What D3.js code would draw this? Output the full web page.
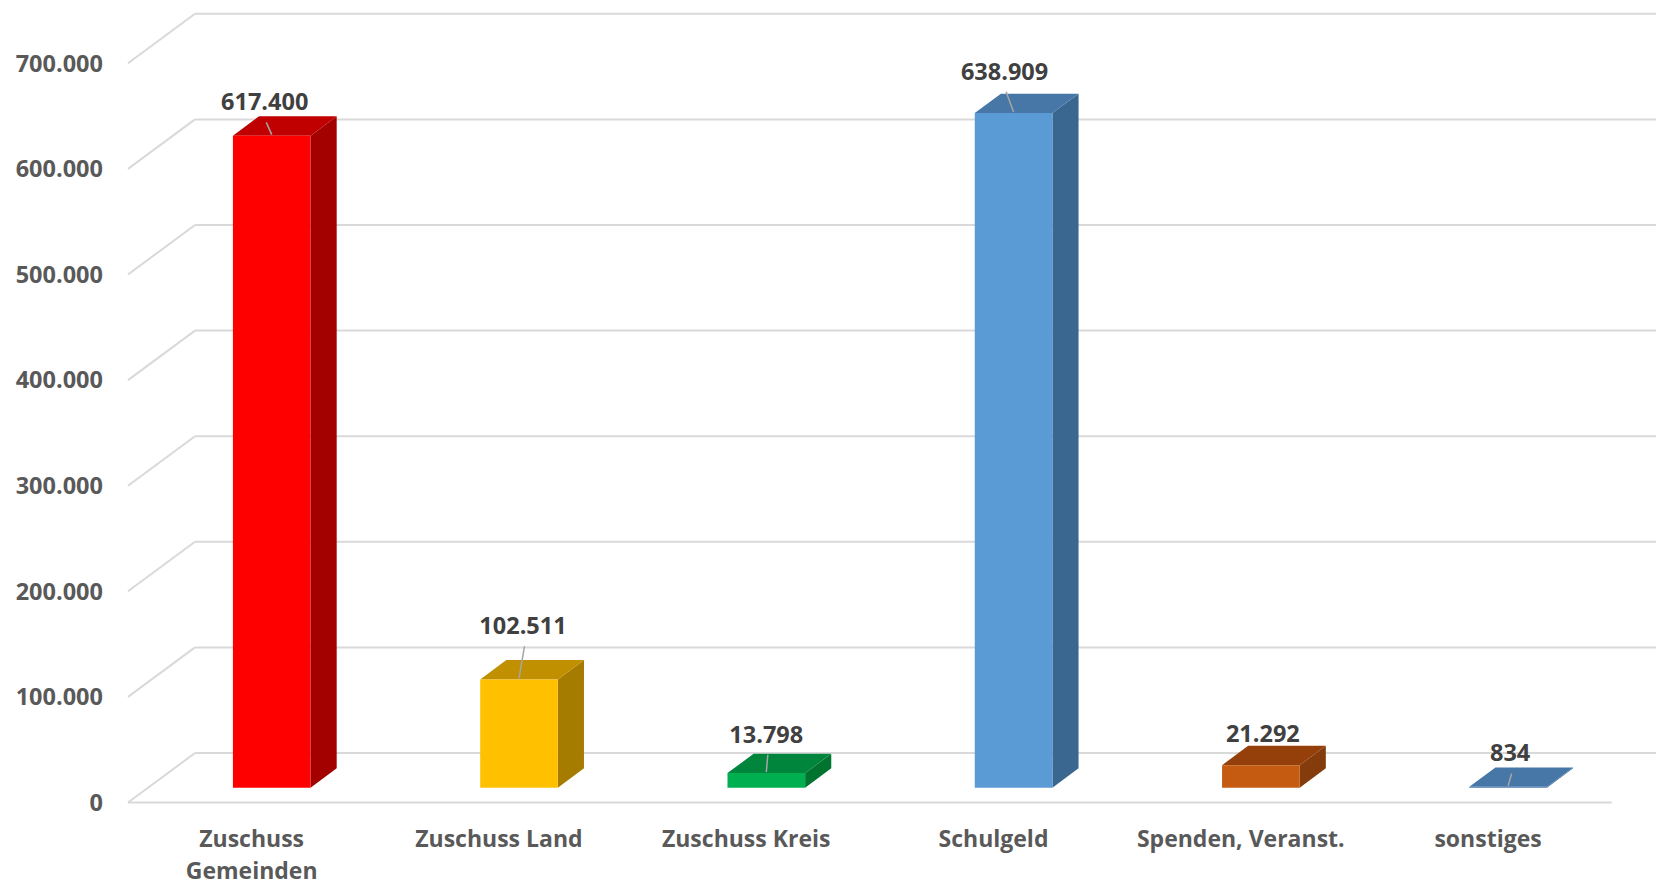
<!DOCTYPE html>
<html>
<head>
<meta charset="utf-8">
<script src="https://cdn.jsdelivr.net/npm/d3@7"></script>
<style>
  html, body { margin: 0; padding: 0; background: #ffffff; }
  svg { display: block; }
  text { font-family: "Open Sans", "Liberation Sans", sans-serif; font-weight: 700; }
</style>
</head>
<body>
<svg id="chart" width="1656" height="885"></svg>
<script>
// ---- data ----
const categories = ["Zuschuss Gemeinden", "Zuschuss Land", "Zuschuss Kreis", "Schulgeld", "Spenden, Veranst.", "sonstiges"];
const values = [617400, 102511, 13798, 638909, 21292, 834];
const yTicks = [0, 100000, 200000, 300000, 400000, 500000, 600000, 700000];

// ---- styles ----
const frontColors = ["#FF0000", "#FFC000", "#00B050", "#5B9BD5", "#C55A11", "#4B7DB0"];
const topColors   = ["#C00000", "#C09000", "#00853D", "#4677A6", "#95400B", "#4677A6"];
const sideColors  = ["#A30000", "#A67C00", "#00732F", "#3A6790", "#843C0C", "#3A6790"];
// manual label nudges (px) relative to bar front centre / back-top edge, and leader visibility
const labelNudgeX = [-7, 4, 0, -9, 2, 2];
const labelNudgeY = [-6, -26, -11, -14, -4, -6];
const showLeader  = [true, true, true, true, false, true];

const svg = d3.select("#chart");
const fmt = d3.formatLocale({ decimal: ",", thousands: ".", grouping: [3], currency: ["", " €"] }).format(",d");

// geometry
const Y0 = 802.5;            // front floor baseline
const DX = 67, DY = 49.5;    // depth offset of the back wall
const D0 = 0.30, D1 = 0.69;  // bar depth range

const x = d3.scaleBand().domain(categories).range([128, 1611.7]).padding(0);
const y = d3.scaleLinear().domain([0, 700000]).range([0, 739.2]);

const proj = (xf, v, d) => [xf + DX * d, Y0 - y(v) - DY * d];

const grid = svg.append("g").attr("fill", "none").attr("stroke", "#D9D9D9").attr("stroke-width", 2);
// back wall gridlines
grid.selectAll("line.back").data(yTicks).join("line")
  .attr("class", "back")
  .attr("x1", d => proj(x.range()[0], d, 1)[0])
  .attr("x2", d => proj(x.range()[1], d, 1)[0])
  .attr("y1", d => proj(0, d, 1)[1])
  .attr("y2", d => proj(0, d, 1)[1]);
// side wall diagonals
grid.selectAll("line.side").data(yTicks).join("line")
  .attr("class", "side")
  .attr("x1", d => proj(x.range()[0], d, 0)[0])
  .attr("y1", d => proj(0, d, 0)[1])
  .attr("x2", d => proj(x.range()[0], d, 1)[0])
  .attr("y2", d => proj(0, d, 1)[1]);
// floor front edge
grid.append("line")
  .attr("x1", x.range()[0]).attr("x2", x.range()[1])
  .attr("y1", Y0).attr("y2", Y0);

// y axis labels
svg.append("g").selectAll("text").data(yTicks).join("text")
  .attr("x", 103)
  .attr("y", d => proj(0, d, 0)[1])
  .attr("dy", "0.35em")
  .attr("text-anchor", "end")
  .attr("font-size", 23.5)
  .attr("fill", "#595959")
  .text(d => fmt(d));

// bars
const barW = x.bandwidth() * 0.314;
const bars = svg.append("g");
const data = categories.map((c, i) => ({ c, v: values[i], i }));
const poly = pts => pts.map(p => p.join(",")).join(" ");
data.forEach(d => {
  const cx = x(d.c) + x.bandwidth() / 2;
  const xl = cx - barW / 2, xr = cx + barW / 2;
  const g = bars.append("g");
  g.append("polygon").attr("fill", sideColors[d.i])
    .attr("points", poly([proj(xr, 0, D0), proj(xr, 0, D1), proj(xr, d.v, D1), proj(xr, d.v, D0)]));
  g.append("polygon").attr("fill", topColors[d.i])
    .attr("points", poly([proj(xl, d.v, D0), proj(xr, d.v, D0), proj(xr, d.v, D1), proj(xl, d.v, D1)]));
  g.append("polygon").attr("fill", frontColors[d.i])
    .attr("points", poly([proj(xl, 0, D0), proj(xr, 0, D0), proj(xr, d.v, D0), proj(xl, d.v, D0)]));
  d.frontCx = proj(cx, d.v, D0)[0];
  d.frontTop = proj(cx, d.v, D0)[1];
  d.backTop = proj(cx, d.v, D1)[1];
});

// data labels with leader lines
const labels = svg.append("g");
data.forEach(d => {
  const lx = d.frontCx + labelNudgeX[d.i];
  const ly = d.backTop + labelNudgeY[d.i];
  if (showLeader[d.i]) {
    labels.append("line")
      .attr("x1", lx + 1.5).attr("y1", ly + 12)
      .attr("x2", d.frontCx).attr("y2", d.frontTop - 1)
      .attr("stroke", "#A6A6A6").attr("stroke-width", 1.5);
  }
  labels.append("text")
    .attr("x", lx).attr("y", ly)
    .attr("text-anchor", "middle")
    .attr("font-size", 23.5)
    .attr("fill", "#404040")
    .text(fmt(d.v));
});

// category labels (wrapped)
const cat = svg.append("g");
categories.forEach(c => {
  const cx = x(c) + x.bandwidth() / 2;
  const t = cat.append("text")
    .attr("x", cx).attr("y", 846.7)
    .attr("text-anchor", "middle")
    .attr("font-size", 23)
    .attr("fill", "#595959");
  const words = c.split(" ");
  let line = [], lineNo = 0;
  let ts = t.append("tspan").attr("x", cx).attr("dy", 0);
  words.forEach(w => {
    line.push(w);
    ts.text(line.join(" "));
    if (ts.node().getComputedTextLength() > 225 && line.length > 1) {
      line.pop();
      ts.text(line.join(" "));
      line = [w];
      lineNo++;
      ts = t.append("tspan").attr("x", cx).attr("dy", 32.7).text(w);
    }
  });
});
</script>
</body>
</html>
